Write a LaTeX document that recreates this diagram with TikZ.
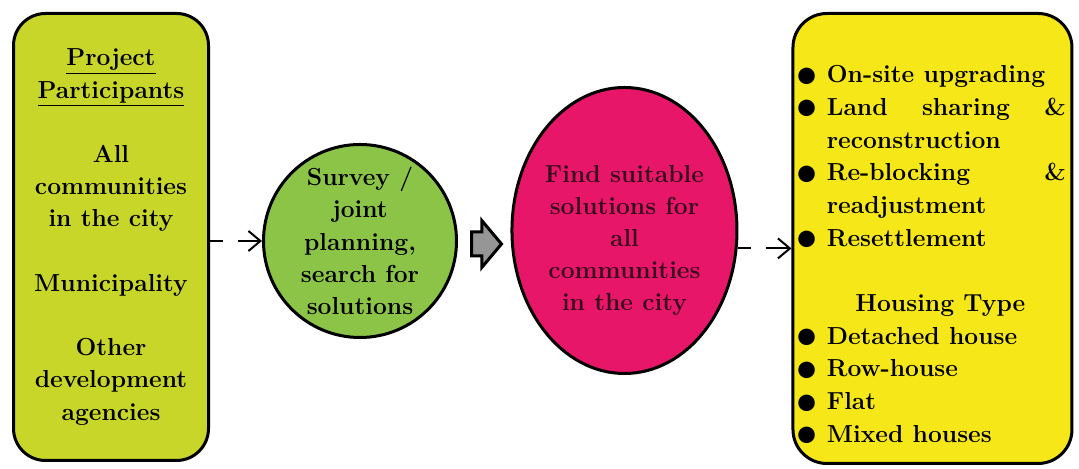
\documentclass[tikz,border=0pt]{standalone}
\usetikzlibrary{shapes.geometric, shapes.arrows, arrows.meta, positioning}
\definecolor{limefill}{RGB}{200,214,42}
\definecolor{leaffill}{RGB}{140,196,72}
\definecolor{rosefill}{RGB}{232,22,104}
\definecolor{lemonfill}{RGB}{246,232,24}
\definecolor{pushgray}{RGB}{150,150,150}
\definecolor{rosetext}{RGB}{55,12,28}
\newcommand{\bodyfont}{\fontsize{12.3}{16.1}\selectfont\bfseries}
\newcommand{\listfont}{\fontsize{12.3}{16.35}\selectfont\bfseries}
\newcommand{\dotmark}{\makebox[10pt][c]{\raisebox{-3.3pt}{\fontsize{28}{16}\selectfont\textbullet}}}
\tikzset{
    panel/.style={
        rectangle, draw=black, line width=1.5pt,
        rounded corners=16pt, align=center, font=\bodyfont
    },
    blob/.style={
        draw=black, line width=1.5pt, inner sep=0pt,
        align=center, font=\bodyfont
    },
    dasharrow/.style={
        -{Straight Barb[length=6pt, width=10pt, line width=1pt]},
        line width=1pt, dash pattern=on 6.5pt off 7.5pt on 40pt off 0pt
    },
    push/.style={
        single arrow, draw=black, line width=1.5pt, fill=pushgray,
        inner xsep=0pt, inner ysep=5.25pt, minimum height=15pt,
        single arrow head extend=5.75pt, single arrow tip angle=100
    }
}

\begin{document}
\begin{tikzpicture}

\useasboundingbox (0,0) rectangle (539.5pt,234.5pt);

% ── Left: who takes part ─────────────────────────────────────────────────────
\node[panel, fill=limefill, minimum width=97.5pt, minimum height=223.5pt]
    (participants) at (55.5pt,116pt)
    {\underline{Project}\\ \underline{Participants}\\[16.1pt]
     All\\ communities\\ in the city\\[16.1pt]
     Municipality\\[16.1pt]
     Other\\ development\\ agencies};

% ── Survey circle ────────────────────────────────────────────────────────────
\node[blob, circle, fill=leaffill, minimum size=96.5pt,
      right=26pt of participants, yshift=-2pt] (survey)
    {Survey /\\ joint\\ planning,\\ search for\\ solutions};

% ── Block arrow ──────────────────────────────────────────────────────────────
\node[push, right=6pt of survey, yshift=-1.5pt] (step2) {};

% ── Solutions ellipse ────────────────────────────────────────────────────────
\node[blob, ellipse, fill=rosefill, text=rosetext,
      minimum width=112.5pt, minimum height=143pt,
      right=3.5pt of step2, yshift=6.75pt] (solutions)
    {\rule{0pt}{18.5pt}Find suitable\\ solutions for\\ all\\ communities\\ in the city};

% ── Right: options and housing types ─────────────────────────────────────────
\node[panel, fill=lemonfill, rounded corners=17pt,
      minimum width=139.5pt, minimum height=225pt,
      right=26.5pt of solutions, yshift=-4pt] (options) {};
\node[font=\listfont, inner sep=0pt, align=left, anchor=west]
    (optionlist) at ([xshift=2.5pt, yshift=-8.75pt]options.west)
    {\begin{tabular}{@{}l@{\hspace{5pt}}p{119.5pt}@{}}
     \dotmark & On-site upgrading\\
     \dotmark & Land\hfill sharing\hfill \&\newline reconstruction\\
     \dotmark & Re-blocking\hfill \&\newline readjustment\\
     \dotmark & Resettlement\\
     & \\
     \multicolumn{2}{c}{\hspace{9pt}Housing Type}\\
     \dotmark & Detached house\\
     \dotmark & Row-house\\
     \dotmark & Flat\\
     \dotmark & Mixed houses
     \end{tabular}};

% ── Dashed connectors ────────────────────────────────────────────────────────
\draw[dasharrow] (participants.east |- survey.west) -- (survey.west);
\draw[dasharrow] (solutions.-9) -- (solutions.-9 -| options.west);

\end{tikzpicture}
\end{document}
